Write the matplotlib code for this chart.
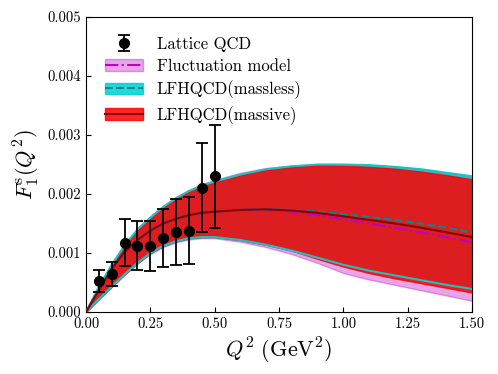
import matplotlib
matplotlib.use('Agg')
import matplotlib.pyplot as plt
import numpy as np

plt.rcParams['font.family'] = 'serif'
plt.rcParams['font.serif'] = ['cmr10']
plt.rcParams['mathtext.fontset'] = 'cm'
plt.rcParams['axes.formatter.use_mathtext'] = True
plt.rcParams['axes.unicode_minus'] = False

# Lattice QCD points
lat_q2 = [0.05, 0.10, 0.15, 0.20, 0.25, 0.30, 0.35, 0.40, 0.45, 0.50]
lat_f = [0.000525, 0.000644, 0.001175, 0.001124, 0.00112, 0.00125, 0.00136, 0.00138, 0.00211, 0.00230]
lat_err = [0.00018, 0.00020, 0.00040, 0.00042, 0.00043, 0.00049, 0.00056, 0.00057, 0.00075, 0.00087]

# model curves
q2 = [0, 0.05, 0.1, 0.15, 0.2, 0.25, 0.3, 0.35, 0.4, 0.45, 0.5,
      0.6, 0.7, 0.8, 0.9, 1.0, 1.1, 1.2, 1.3, 1.4, 1.5]

fluc_up = [0, 0.00043, 0.0008, 0.00114, 0.00141, 0.00162, 0.0018, 0.00195, 0.00207, 0.00217, 0.00224,
           0.00236, 0.00244, 0.00248, 0.0025, 0.0025, 0.00248, 0.00245, 0.0024, 0.00234, 0.00228]
fluc_lo = [0, 0.00022, 0.00043, 0.00063, 0.00082, 0.00098, 0.0011, 0.00118, 0.00123, 0.00125, 0.00125,
           0.00119, 0.0011, 0.00098, 0.00083, 0.00066, 0.00055, 0.00046, 0.00037, 0.00028, 0.00019]
fluc_c = [0, 0.00037, 0.00073, 0.00102, 0.00122, 0.00138, 0.0015, 0.00158, 0.00164, 0.00168, 0.0017,
          0.00173, 0.00173, 0.0017, 0.00164, 0.00157, 0.0015, 0.00143, 0.00135, 0.00127, 0.00118]

ml_up = [0, 0.00043, 0.0008, 0.00113, 0.0014, 0.0016, 0.00178, 0.00193, 0.00205, 0.00214, 0.00221,
         0.00233, 0.00242, 0.00247, 0.0025, 0.0025, 0.00249, 0.00246, 0.00242, 0.00236, 0.0023]
ml_lo = [0, 0.00022, 0.00043, 0.00064, 0.00083, 0.001, 0.00112, 0.0012, 0.00125, 0.00127, 0.00127,
         0.00122, 0.00114, 0.00104, 0.00092, 0.0008, 0.0007, 0.00062, 0.00054, 0.00046, 0.00039]
ml_c = [0, 0.00037, 0.00073, 0.00102, 0.00122, 0.00138, 0.0015, 0.00158, 0.00164, 0.00168, 0.0017,
        0.00173, 0.00174, 0.00173, 0.0017, 0.00166, 0.00161, 0.00156, 0.0015, 0.00143, 0.00135]

mv_up = [0, 0.00042, 0.00079, 0.00112, 0.00139, 0.00159, 0.00177, 0.00192, 0.00204, 0.00213, 0.0022,
         0.00232, 0.00241, 0.00246, 0.00249, 0.00248, 0.00246, 0.00243, 0.00238, 0.00232, 0.00225]
mv_lo = [0, 0.00022, 0.00043, 0.00064, 0.00083, 0.001, 0.00112, 0.0012, 0.00125, 0.00127, 0.00127,
         0.00122, 0.00114, 0.00104, 0.0009, 0.00077, 0.00066, 0.00057, 0.00049, 0.00041, 0.00033]
mv_c = [0, 0.00037, 0.00073, 0.00102, 0.00122, 0.00138, 0.0015, 0.00158, 0.00164, 0.00168, 0.0017,
        0.00173, 0.00174, 0.00172, 0.00168, 0.00162, 0.00156, 0.0015, 0.00143, 0.00135, 0.00127]

xticks = [0.0, 0.25, 0.5, 0.75, 1.0, 1.25, 1.5]
yticks = [0.0, 0.001, 0.002, 0.003, 0.004, 0.005]

fig = plt.figure(figsize=(4.98, 3.74), dpi=100)
ax = fig.add_axes([0.1727, 0.1658, 0.7753, 0.7887])

# bands
f1 = ax.fill_between(q2, fluc_lo, fluc_up, color='m', alpha=0.35, lw=1)
f2 = ax.fill_between(q2, ml_lo, ml_up, color='darkturquoise', alpha=0.85, lw=1)
f3 = ax.fill_between(q2, mv_lo, mv_up, color='red', alpha=0.85, lw=1)
ax.plot(q2, ml_up, color='#20c0c0', lw=1.5, zorder=3)
ax.plot(q2, ml_lo, color='#20c0c0', lw=1.5, zorder=3)

l1, = ax.plot(q2, fluc_c, color='m', ls='-.', lw=1.5, zorder=4)
l2, = ax.plot(q2, ml_c, color='darkcyan', ls='--', lw=1.5, zorder=4)
l3, = ax.plot(q2, mv_c, color='darkred', ls='-', lw=1.5, zorder=5)

eb = ax.errorbar(lat_q2, lat_f, yerr=lat_err, fmt='o', color='black', ms=7,
                 elinewidth=1.3, capsize=4, capthick=1.3, zorder=6)

ax.set_xlim(0, 1.5)
ax.set_ylim(0, 0.005)
ax.set_xticks(xticks)
ax.set_xticklabels(['%.2f' % t for t in xticks])
ax.set_yticks(yticks)
ax.set_yticklabels(['%.3f' % t for t in yticks])
ax.tick_params(direction='in', labelsize=10.5)

ax.set_xlabel(r'$Q^2\ (\mathrm{GeV}^2)$', fontsize=16)
ax.set_ylabel(r'$F_1^{\mathrm{s}}(Q^2)$', fontsize=16)

ax.legend([eb, (f1, l1), (f2, l2), (f3, l3)],
          ['Lattice QCD', 'Fluctuation model', 'LFHQCD(massless)', 'LFHQCD(massive)'],
          loc='upper left', bbox_to_anchor=(0.01, 0.985), frameon=False,
          fontsize=12, handlelength=2.3, labelspacing=0.4)

fig.savefig('out.png', dpi=100)
